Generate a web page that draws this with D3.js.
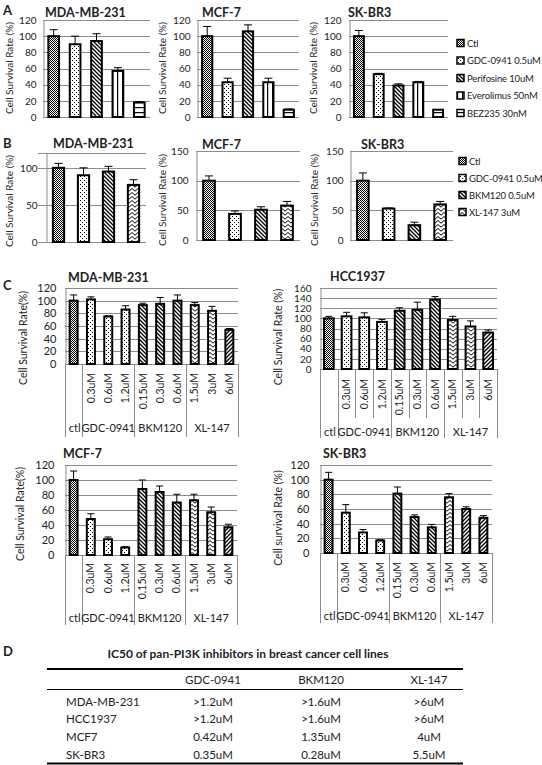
<!DOCTYPE html>
<html><head><meta charset="utf-8">
<script src="https://cdn.jsdelivr.net/npm/d3@7"></script>
<style>body{margin:0;background:#fff}svg{display:block}text{font-family:Lato,"Open Sans",sans-serif;fill:#222}</style>
</head><body><svg id="c" width="542" height="765"></svg>
<script>
// ---------------- DATA ----------------
const A_legend = ["Ctl","GDC-0941 0.5uM","Perifosine 10uM","Everolimus 50nM","BEZ235 30nM"];
const A_ticks = [0,20,40,60,80,100,120];
const A_mda = [100,90,94,57,18];
const A_mda_err = [8,10,9,4,1];
const A_mcf = [100,43,106,43,9];
const A_mcf_err = [12,5,8,5,1];
const A_skbr = [100,53,39,43,9];
const A_skbr_err = [7,1,2,1,0];

const B_legend = ["Ctl","GDC-0941 0.5uM","BKM120 0.5uM","XL-147 3uM"];
const B_ticks_mda = [0,50,100];
const B_ticks = [0,50,100,150];
const B_mda = [100,90,95,77];
const B_mda_err = [6,10,7,7];
const B_mcf = [100,44,51,58];
const B_mcf_err = [8,5,5,7];
const B_skbr = [100,53,25,60];
const B_skbr_err = [13,1,5,5];

const C_groups = ["ctl","GDC-0941","BKM120","XL-147"];
const C_groupSizes = [1,3,3,3];
const C_doses = ["","0.3uM","0.6uM","1.2uM","0.15uM","0.3uM","0.6uM","1.5uM","3uM","6uM"];
const C_ticks = [0,20,40,60,80,100,120];
const C_ticks_hcc = [0,20,40,60,80,100,120,140,160];
const C_mda = [100,102,75,86,93,95,100,93,84,54];
const C_mda_err = [9,4,1,6,3,10,9,4,7,2];
const C_hcc = [100,104,102,93,115,117,137,97,84,72];
const C_hcc_err = [4,8,9,5,6,15,6,7,11,5];
const C_mcf = [100,48,21,10,88,84,70,73,57,37];
const C_mcf_err = [12,7,3,1,12,8,11,8,7,4];
const C_skbr = [100,55,28,17,81,49,35,76,60,48];
const C_skbr_err = [10,11,4,1,9,3,4,5,3,3];

const D_title = "IC50 of pan-PI3K inhibitors in breast cancer cell lines";
const D_cols = ["GDC-0941","BKM120","XL-147"];
const D_rows = ["MDA-MB-231","HCC1937","MCF7","SK-BR3"];
const D_values = [
  [">1.2uM",">1.6uM",">6uM"],
  [">1.2uM",">1.6uM",">6uM"],
  ["0.42uM","1.35uM","4uM"],
  ["0.35uM","0.28uM","5.5uM"]
];

// ---------------- STYLES ----------------
const A_pats = ["checker","dots","bdiag","vert","horiz"];
const B_pats = ["checker","dots","bdiag","zig"];
const C_pats = ["checker","dots","dots","dots","bdiag","bdiag","bdiag","zig","zig","fdiag"];
const C_pats_sk = ["checker","dots","dots","dots","bdiag","bdiag","bdiag","zig","fdiag","fdiag"];
const GRID = "#8c8c8c";

const svg = d3.select("#c");
const defs = svg.append("defs");
function pat(id,w,h,fn){
  const p = defs.append("pattern").attr("id",id).attr("patternUnits","userSpaceOnUse").attr("width",w).attr("height",h);
  p.append("rect").attr("width",w).attr("height",h).attr("fill","#fff");
  fn(p);
}
pat("checker",2,2,p=>{p.append("rect").attr("width",1).attr("height",1).attr("fill","#000");
  p.append("rect").attr("x",1).attr("y",1).attr("width",1).attr("height",1).attr("fill","#000");});
pat("dots",4,4,p=>{p.append("rect").attr("x",0).attr("y",0).attr("width",1).attr("height",1).attr("fill","#000");
  p.append("rect").attr("x",2).attr("y",2).attr("width",1).attr("height",1).attr("fill","#000");});
pat("bdiag",4,4,p=>{p.append("path").attr("d","M-1,-1L5,5M-1,3L1,5M3,-1L5,1").attr("stroke","#000").attr("stroke-width",1.3);});
pat("fdiag",4,4,p=>{p.append("path").attr("d","M-1,5L5,-1M-1,1L1,-1M3,5L5,3").attr("stroke","#000").attr("stroke-width",1.3);});
pat("vert",5,5,p=>{p.append("rect").attr("x",2).attr("width",1.2).attr("height",5).attr("fill","#000");});
pat("horiz",5,5,p=>{p.append("rect").attr("y",2).attr("width",5).attr("height",1.2).attr("fill","#000");});
pat("zig",6,4,p=>{p.append("path").attr("d","M0,0.5L3,3.2L6,0.5").attr("stroke","#000").attr("stroke-width",1).attr("fill","none");});

function txt(x,y,s,o={}){
  const t = svg.append("text").attr("x",x).attr("y",y).text(s)
    .attr("font-size",o.fs||10).attr("dominant-baseline","central");
  if(o.bold) t.attr("font-weight","bold");
  if(o.anchor) t.attr("text-anchor",o.anchor);
  if(o.ls) t.attr("letter-spacing",o.ls);
  if(o.rot){ t.attr("x",0).attr("y",0).attr("transform",`translate(${x},${y}) rotate(-90)`); }
  return t;
}

function chart(o){
  const y = d3.scaleLinear().domain([0,o.max]).range([o.y0,o.yT]);
  const x = d3.scaleBand().domain(d3.range(o.values.length)).range([o.x0,o.x1])
    .paddingInner(o.pad).paddingOuter(o.pad/2);
  const g = svg.append("g");
  const grid = o.ticks.includes(o.max) ? o.ticks : o.ticks.concat([o.max]);
  g.selectAll("line.grid").data(grid).join("line").attr("class","grid")
    .attr("x1",o.gx0!==undefined?o.gx0:o.x0).attr("x2",o.x1)
    .attr("y1",d=>Math.round(y(d))+0.5).attr("y2",d=>Math.round(y(d))+0.5)
    .attr("stroke",GRID).attr("stroke-width",1);
  const ax = d3.axisLeft(y).tickValues(o.ticks).tickSize(0).tickPadding(o.tp);
  const ag = g.append("g").attr("transform",`translate(${Math.round(o.x0)+0.5},0)`).call(ax)
    .attr("font-family","Lato, 'Open Sans', sans-serif").attr("font-size",o.tf);
  ag.select(".domain").attr("stroke",GRID);
  ag.selectAll("text").attr("fill","#222");
  const bw = x.bandwidth();
  g.selectAll("rect.bar").data(o.values).join("rect").attr("class","bar")
    .attr("x",(d,i)=>x(i)).attr("width",bw)
    .attr("y",d=>y(d)).attr("height",d=>y(0)-y(d))
    .attr("fill",(d,i)=>`url(#${o.pats[i]})`).attr("stroke","#000").attr("stroke-width",o.sw||2);
  const cap = o.cap||3;
  o.values.forEach((v,i)=>{
    const e = o.errs[i]; if(!e) return;
    const cx = x(i)+bw/2;
    g.append("line").attr("x1",cx).attr("x2",cx).attr("y1",y(v)).attr("y2",y(v+e)).attr("stroke","#000").attr("stroke-width",1);
    g.append("line").attr("x1",cx-cap).attr("x2",cx+cap).attr("y1",y(v+e)).attr("y2",y(v+e)).attr("stroke","#000").attr("stroke-width",1);
  });
  txt(o.tx,o.ty,o.title,{fs:o.titleFs||12.5,bold:true});
  txt(o.lx,o.ly,o.ylabel,{fs:o.lf||10,rot:true,anchor:"middle"});
  return x;
}

function catAxis(x,o){
  const step = x.step(), r0 = x.range()[0];
  const g = svg.append("g");
  C_doses.forEach((d,i)=>{
    if(!d) return;
    g.append("text").attr("transform",`translate(${x(i)+x.bandwidth()/2},${o.labTop}) rotate(-90)`)
      .attr("text-anchor","end").attr("dy","0.35em").attr("font-size",o.fs||10.5).text(d);
  });
  const bounds=[0]; let acc=0; C_groupSizes.forEach(s=>{acc+=s;bounds.push(acc);});
  bounds.forEach(b=>{
    const xx = Math.round(r0+b*step)+0.5;
    g.append("line").attr("x1",xx).attr("x2",xx).attr("y1",o.y0).attr("y2",o.yB).attr("stroke",GRID);
  });
  if(o.inner){
    d3.range(1,C_doses.length).filter(i=>!bounds.includes(i)).forEach(i=>{
      const xx = Math.round(r0+i*step)+0.5;
      g.append("line").attr("x1",xx).attr("x2",xx).attr("y1",o.y0).attr("y2",o.yI).attr("stroke",GRID);
    });
  }
  C_groups.forEach((gl,k)=>{
    const cx = r0 + (bounds[k]+bounds[k+1])/2*step;
    g.append("text").attr("x",cx+(k===0?1:0)).attr("y",o.gy).attr("text-anchor","middle").attr("dominant-baseline","central")
      .attr("font-size",o.gf||11).text(gl);
  });
}

function legend(items,pats,x,ys){
  const yy = d3.scalePoint().domain(items).range(ys);
  items.forEach((it,i)=>{
    svg.append("rect").attr("x",x).attr("y",yy(it)-3.5).attr("width",7).attr("height",7)
      .attr("fill",`url(#${pats[i]})`).attr("stroke","#000").attr("stroke-width",1.5);
    txt(x+10,yy(it),it,{fs:9.5,ls:-0.15});
  });
}

// ---------------- PANEL LETTERS ----------------
txt(3,10,"A",{fs:13,bold:true});
txt(3,143,"B",{fs:13,bold:true});
txt(3,285,"C",{fs:13,bold:true});
txt(3,651,"D",{fs:13,bold:true});

// ---------------- PANEL A ----------------
const yl = "Cell Survival Rate (%)";
chart({x0:43,x1:150,y0:117,yT:20,max:120,ticks:A_ticks,values:A_mda,errs:A_mda_err,pats:A_pats,pad:0.5,tp:7,tf:10,
  title:"MDA-MB-231",tx:45,ty:12,ylabel:yl,lx:9,ly:68,cap:4});
chart({x0:197,x1:299,y0:117,yT:20,max:120,ticks:A_ticks,values:A_mcf,errs:A_mcf_err,pats:A_pats,pad:0.5,tp:7,tf:10,
  title:"MCF-7",tx:202,ty:12,ylabel:yl,lx:162,ly:68,cap:4});
chart({x0:349,x1:448,y0:117,yT:20,max:120,ticks:A_ticks,values:A_skbr,errs:A_skbr_err,pats:A_pats,pad:0.5,tp:8,tf:10,
  title:"SK-BR3",tx:348,ty:12,ylabel:yl,lx:313,ly:68,cap:4});
legend(A_legend,A_pats,457,[43,113]);

// ---------------- PANEL B ----------------
chart({x0:46,x1:146,y0:242,yT:153,max:120,ticks:B_ticks_mda,values:B_mda,errs:B_mda_err,pats:B_pats,pad:0.55,tp:9,tf:10,
  title:"MDA-MB-231",tx:53,ty:143,ylabel:yl,lx:9,ly:201,cap:4,gx0:38});
chart({x0:196,x1:300,y0:240,yT:151,max:150,ticks:B_ticks,values:B_mcf,errs:B_mcf_err,pats:B_pats,pad:0.55,tp:8,tf:10,
  title:"MCF-7",tx:202,ty:144,ylabel:yl,lx:162,ly:200,cap:4});
chart({x0:350,x1:453,y0:240,yT:151,max:150,ticks:B_ticks,values:B_skbr,errs:B_skbr_err,pats:B_pats,pad:0.55,tp:7,tf:10,
  title:"SK-BR3",tx:361,ty:144,ylabel:yl,lx:314,ly:200,cap:4});
legend(B_legend,B_pats,459,[161,212]);

// ---------------- PANEL C ----------------
let xc;
xc = chart({x0:65,x1:238,y0:364,yT:288,max:120,ticks:C_ticks,values:C_mda,errs:C_mda_err,pats:C_pats,pad:0.54,tp:9,tf:11,sw:2,
  title:"MDA-MB-231",tx:68,ty:277,ylabel:"Cell Survival Rate(%)",lx:23,ly:338,lf:10.5,cap:3.5});
catAxis(xc,{y0:364,yB:437,labTop:373,gy:427});

xc = chart({x0:320,x1:497,y0:369,yT:288,max:160,ticks:C_ticks_hcc,values:C_hcc,errs:C_hcc_err,pats:C_pats,pad:0.45,tp:9,tf:10,sw:2,
  title:"HCC1937",tx:330,ty:276,ylabel:"Cell Survival Rate (%)",lx:278,ly:337,lf:10.5,cap:3.5});
catAxis(xc,{y0:369,yB:438,yI:418,labTop:379,gy:431,inner:true});

xc = chart({x0:65,x1:237,y0:555,yT:465,max:120,ticks:C_ticks,values:C_mcf,errs:C_mcf_err,pats:C_pats,pad:0.54,tp:11,tf:11,sw:2,
  title:"MCF-7",tx:63,ty:453,ylabel:"Cell Survival Rate(%)",lx:20,ly:514,lf:10.5,cap:3.5});
catAxis(xc,{y0:555,yB:625,labTop:563,gy:617});

xc = chart({x0:320,x1:492,y0:553,yT:465,max:120,ticks:C_ticks,values:C_skbr,errs:C_skbr_err,pats:C_pats_sk,pad:0.54,tp:11,tf:11,sw:2,
  title:"SK-BR3",tx:323,ty:453,ylabel:"Cell survival Rate (%)",lx:278,ly:518,lf:10.5,cap:3.5});
catAxis(xc,{y0:553,yB:623,labTop:562,gy:615});

// ---------------- PANEL D ----------------
txt(248,653,D_title,{fs:12,bold:true,anchor:"middle"});
const cx = d3.scalePoint().domain(D_cols).range([213,429]);
const ry = d3.scalePoint().domain(D_rows).range([701,754]);
svg.append("line").attr("x1",47).attr("x2",463).attr("y1",669).attr("y2",669).attr("stroke","#000").attr("stroke-width",2);
svg.append("line").attr("x1",47).attr("x2",463).attr("y1",689.5).attr("y2",689.5).attr("stroke","#000").attr("stroke-width",1);
svg.append("line").attr("x1",47).attr("x2",463).attr("y1",763.5).attr("y2",763.5).attr("stroke","#000").attr("stroke-width",2);
D_cols.forEach(c=>txt(cx(c),679,c,{fs:11.5,anchor:"middle"}));
D_rows.forEach((r,i)=>{
  txt(66,ry(r),r,{fs:11.5});
  D_cols.forEach((c,j)=>txt(cx(c),ry(r),D_values[i][j],{fs:11.5,anchor:"middle"}));
});
</script></body></html>
